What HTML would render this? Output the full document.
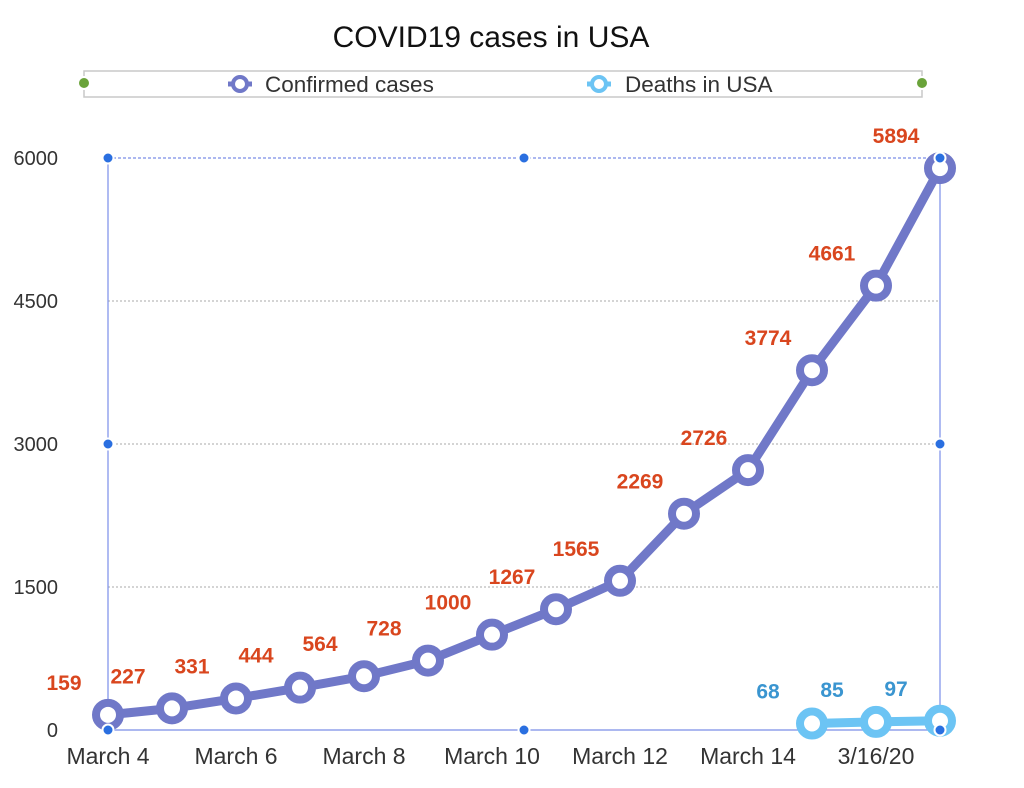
<!DOCTYPE html>
<html><head><meta charset="utf-8"><style>
html,body{margin:0;padding:0;background:#fff;}
svg{display:block;font-family:"Liberation Sans",Arial,sans-serif;}
</style></head><body>
<svg id="chart" width="1024" height="788" viewBox="0 0 1024 788">
<text x="491" y="47" font-size="30" text-anchor="middle" fill="#111">COVID19 cases in USA</text>
<g>
<rect x="84" y="71" width="838" height="26" fill="#fff" stroke="#c8c8c8" stroke-width="1.5"/>
<circle cx="84" cy="83" r="6" fill="#6aa33a" stroke="#fff" stroke-width="2"/>
<circle cx="922" cy="83" r="6" fill="#6aa33a" stroke="#fff" stroke-width="2"/>
<g>
<line x1="228" y1="84" x2="252" y2="84" stroke="#7078c8" stroke-width="5"/>
<circle cx="240" cy="84" r="7" fill="#fff" stroke="#7078c8" stroke-width="4"/>
<text x="265" y="92" font-size="22.5" fill="#333">Confirmed cases</text>
</g>
<g>
<line x1="587" y1="84" x2="611" y2="84" stroke="#6cc4f4" stroke-width="5"/>
<circle cx="599" cy="84" r="7" fill="#fff" stroke="#6cc4f4" stroke-width="4"/>
<text x="625" y="92" font-size="22.5" fill="#333">Deaths in USA</text>
</g>
</g>
<g id="grid"></g>
<g id="axes"></g>
<g id="series"></g>
<g id="handles"></g>
</svg>
<script>
const categories = ["March 4","March 5","March 6","March 7","March 8","March 9","March 10","March 11","March 12","March 13","March 14","March 15","3/16/20","March 17"];
const xTickLabels = ["March 4","","March 6","","March 8","","March 10","","March 12","","March 14","","3/16/20",""];
const confirmed = [159,227,331,444,564,728,1000,1267,1565,2269,2726,3774,4661,5894];
const deathsIdx = [11,12,13];
const deaths = [68,85,97];
const yTicks = [0,1500,3000,4500,6000];

const NS="http://www.w3.org/2000/svg";
const X0=108,X1=940,Y0=730,Y1=158,YMAX=6000;
const xs=i=>X0+i*(X1-X0)/(categories.length-1);
const ys=v=>Y0-v*(Y0-Y1)/YMAX;
function mk(tag,attrs,parent,txt){const e=document.createElementNS(NS,tag);for(const k in attrs)e.setAttribute(k,attrs[k]);if(txt!==undefined)e.textContent=txt;parent.appendChild(e);return e;}
const grid=document.getElementById('grid'),axes=document.getElementById('axes'),series=document.getElementById('series'),handles=document.getElementById('handles');

yTicks.forEach(t=>{
  const y=ys(t);
  if(t>0&&t<YMAX){const l=mk('line',{x1:X0,x2:X1,y1:y,y2:y,stroke:'#aaa','stroke-width':1,'stroke-dasharray':'2,2'},grid);
  
  }
  const tx=mk('text',{x:58,y:y+7,'font-size':20,'text-anchor':'end',fill:'#333'},axes,String(t));
  
  
});
const topLine=mk('line',{x1:X0,x2:X1,y1:Y1,y2:Y1,stroke:'#7a8ee8','stroke-width':1.2,'stroke-dasharray':'3,2'},axes);


const la=mk('line',{x1:X0,x2:X0,y1:Y1,y2:Y0,stroke:'#7a8ee8','stroke-width':1.2},axes);


const ra=mk('line',{x1:X1,x2:X1,y1:Y1,y2:Y0,stroke:'#7a8ee8','stroke-width':1.2},axes);


const xa=mk('line',{x1:X0,x2:X1,y1:Y0,y2:Y0,stroke:'#7a8ee8','stroke-width':1.2},axes);


xTickLabels.forEach((lab,i)=>{if(!lab)return;
  const t=mk('text',{x:xs(i),y:764,'font-size':23,'text-anchor':'middle',fill:'#333'},axes,lab);
  
  
});

function drawSeries(idx,vals,color,labelColor,name){
  const pts=vals.map((v,k)=>[xs(idx[k]),ys(v)]);
  const pl=mk('polyline',{points:pts.map(p=>p.join(',')).join(' '),fill:'none',stroke:color,'stroke-width':9,'stroke-linejoin':'round'},series);
  
  
  pts.forEach((p,k)=>{
    const c=mk('circle',{cx:p[0],cy:p[1],r:12,fill:'#fff',stroke:color,'stroke-width':8},series);
    
    
    const t=mk('text',{x:p[0]-44,y:p[1]-25,'font-size':21,'font-weight':600,'text-anchor':'middle',fill:labelColor},series,String(vals[k]));
    
    
  });
}
drawSeries(confirmed.map((_,i)=>i),confirmed,'#7078c8','#d9461e','confirmed');
drawSeries(deathsIdx,deaths,'#6cc4f4','#3a95d0','deaths');

[[X0,Y1],[(X0+X1)/2,Y1],[X1,Y1],[X0,(Y0+Y1)/2],[X1,(Y0+Y1)/2],[X0,Y0],[(X0+X1)/2,Y0],[X1,Y0]].forEach((p,k)=>{
  const h=mk('circle',{cx:p[0],cy:p[1],r:5.5,fill:'#2a6fe0',stroke:'#fff','stroke-width':2},handles);
  
  
});
</script>
</body></html>
